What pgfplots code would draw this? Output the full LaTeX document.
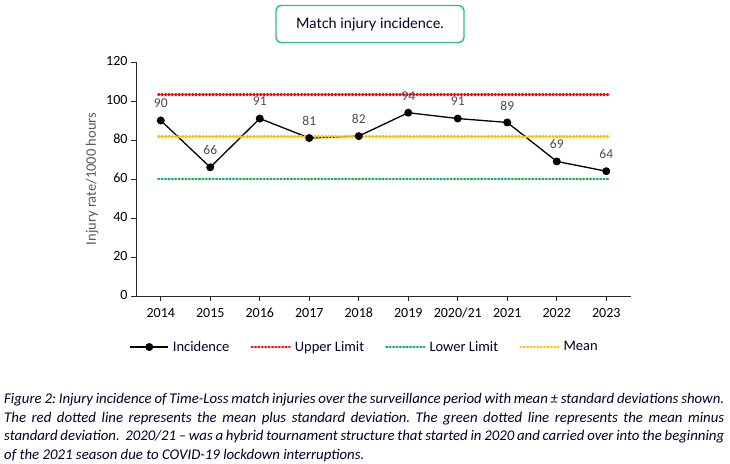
\documentclass[border=0pt]{standalone}
\usepackage{fontspec}
\setmainfont{Carlito}
\newfontfamily\titlefont{Lato}
\usepackage{pgfplots}
\pgfplotsset{compat=1.18}
\definecolor{boxgreen}{HTML}{2DC07A}
\definecolor{lred}{HTML}{FF0000}
\definecolor{lgreen}{HTML}{00B050}
\definecolor{lorange}{HTML}{FFC000}
\definecolor{labgray}{HTML}{595959}
\frenchspacing
\tikzset{dotline/.style={line width=2.4bp, line cap=round, dash pattern=on 0.9bp off 2.5bp}}
\begin{document}
\begin{tikzpicture}
\path[use as bounding box] (0,0) rectangle (730bp,464bp);
% title box
\node[draw=boxgreen, line width=1.4bp, rounded corners=5bp, minimum width=188bp, minimum height=37bp, inner sep=0pt, font=\titlefont\fontsize{14.5bp}{17bp}\selectfont, text=black!85!blue] at (370bp,440bp) {Match injury incidence.};
\begin{axis}[
  at={(136bp,168bp)}, anchor=south west,
  scale only axis, width=495bp, height=234bp,
  xmin=-0.5, xmax=9.5, ymin=0, ymax=120,
  axis x line=bottom, axis y line=left,
  axis line style={-, line width=0.9bp, black!85},
  xtick={0,...,9},
  xticklabels={2014,2015,2016,2017,2018,2019,2020/21,2021,2022,2023},
  ytick={0,20,...,120},
  tick align=outside,
  major tick length=5bp,
  tick style={line width=0.9bp, black!85},
  /pgf/number format/assume math mode=true,
  typeset ticklabels with strut,
  ticklabel style={font=\fontsize{14bp}{16bp}\selectfont, text=black},
  xticklabel style={yshift=-2bp},
  ylabel={Injury rate/1000 hours},
  every axis y label/.style={at={(rel axis cs:0,0.5)}, rotate=90, anchor=center, yshift=44bp, font=\fontsize{14.5bp}{16bp}\selectfont, text=labgray},
  clip=false,
  legend style={at={(0.462,-0.218)}, anchor=center, draw=none, fill=none,
    font=\fontsize{14.5bp}{16bp}\selectfont, text=black!85!blue,
    /tikz/every odd column/.append style={column sep=2bp},
    /tikz/every even column/.append style={column sep=19bp},
    inner sep=0pt, row sep=0pt},
  legend columns=4,
  legend cell align=left,
  legend image code/.code={%
    \draw[mark repeat=2,mark phase=2,#1] plot coordinates {(0bp,0bp) (19bp,0bp) (38bp,0bp)};},
]
\addplot[black, line width=1.3bp, mark=*, mark size=3.3bp,
  nodes near coords,
  every node near coord/.append style={font=\fontsize{13.5bp}{14bp}\selectfont, text=black!70, anchor=center, yshift=17bp},
  point meta=explicit symbolic]
coordinates {(0,90)[90] (1,66)[66] (2,91)[91] (3,81)[81] (4,82)[82] (5,94)[94] (6,91)[91] (7,89)[89] (8,69)[69] (9,64)[64]};
\addlegendentry{Incidence}
\addplot[lred, dotline, forget plot] coordinates {(-0.05,103.4) (9.05,103.4)};
\addplot[lgreen, dotline, forget plot] coordinates {(-0.05,60) (9.05,60)};
\addplot[lorange, dotline, forget plot] coordinates {(-0.05,81.7) (9.05,81.7)};
\addlegendimage{lred, dotline}
\addlegendentry{Upper Limit}
\addlegendimage{lgreen, dotline}
\addlegendentry{Lower Limit}
\addlegendimage{lorange, dotline}
\addlegendentry{Mean}
\end{axis}
% caption
\node[anchor=north west, inner sep=0pt, text width=720bp, align=justify, font=\itshape\fontsize{14.8bp}{18.6bp}\selectfont, text=black!85!blue] at (4bp,71bp) {Figure 2: Injury incidence of Time-Loss match injuries over the surveillance period with mean ± standard deviations shown.\linebreak The red dotted line represents the mean plus standard deviation. The green dotted line represents the mean minus\linebreak standard deviation.\ \ 2020/21 – was a hybrid tournament structure that started in 2020 and carried over into the beginning\linebreak of the 2021 season due to COVID-19 lockdown interruptions.};
\end{tikzpicture}
\end{document}
